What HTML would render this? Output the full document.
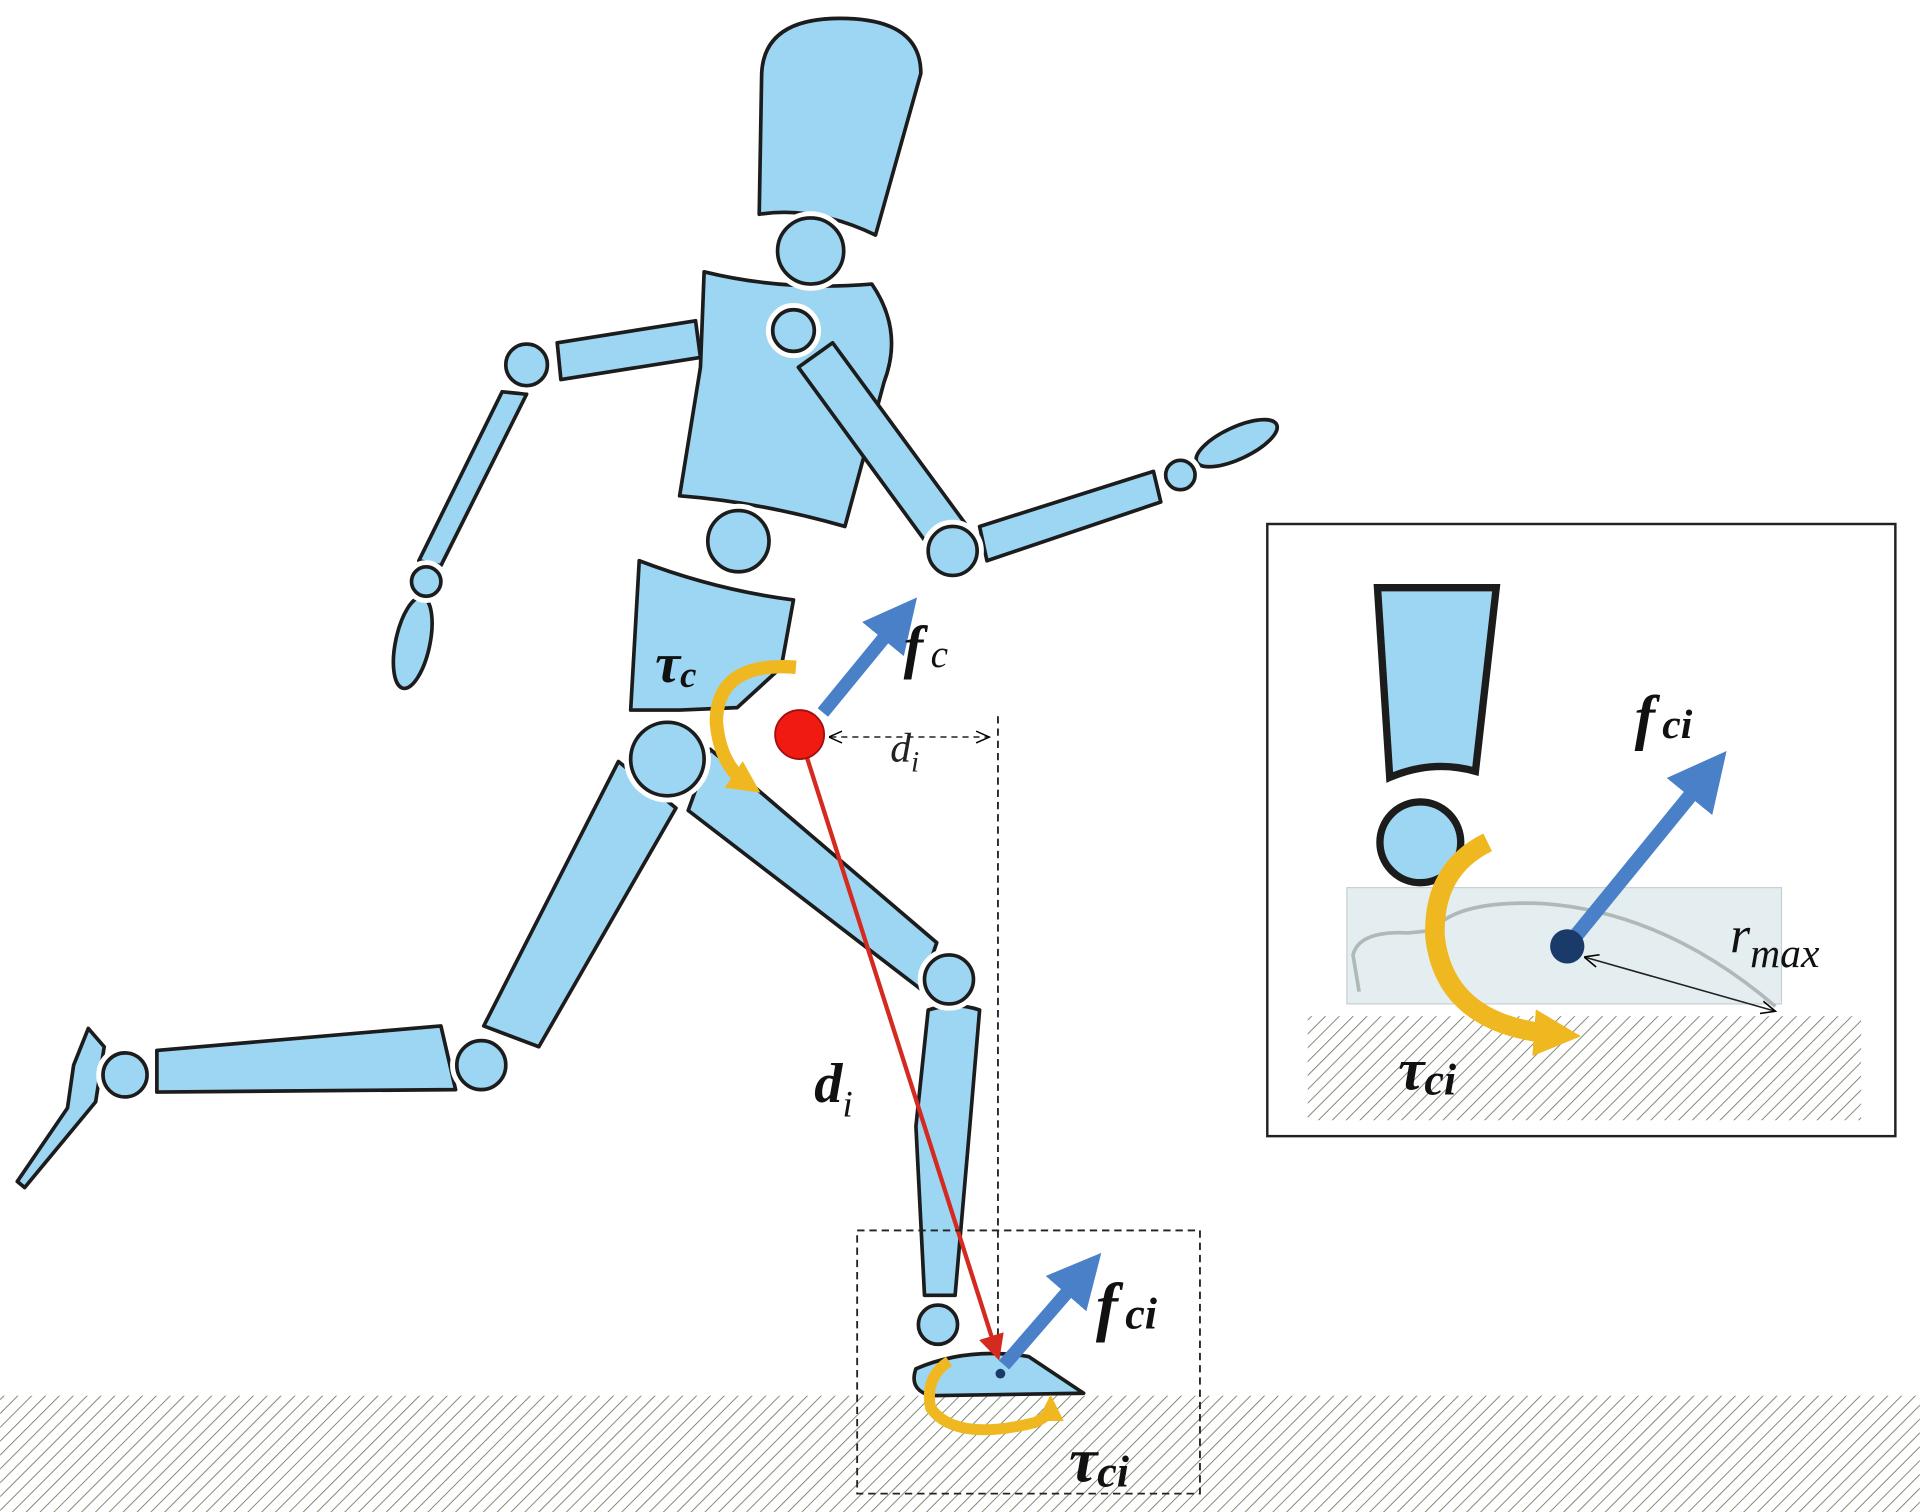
<!DOCTYPE html>
<html><head><meta charset="utf-8"><style>html,body{margin:0;padding:0;background:#fff}svg{display:block}</style></head>
<body>
<svg width="1920" height="1512" viewBox="0 0 1568 1235" xmlns="http://www.w3.org/2000/svg">
<defs>
<pattern id="h" width="8" height="8" patternUnits="userSpaceOnUse" patternTransform="rotate(45)">
<line x1="0" y1="0" x2="0" y2="8" stroke="#6f7a62" stroke-width="1.4"/>
</pattern>
<marker id="ba" markerWidth="4" markerHeight="4" refX="2" refY="2" orient="auto"><path d="M0,0L4,2L0,4Z" fill="#4a80c8"/></marker>
<marker id="ra" markerWidth="6" markerHeight="6" refX="5" refY="3" orient="auto"><path d="M0,0L6,3L0,6Z" fill="#d42a20"/></marker>
<marker id="ka" markerWidth="10" markerHeight="10" refX="9" refY="5" orient="auto"><path d="M0,1L9,5L0,9" fill="none" stroke="#000"/></marker>
<marker id="ka2" markerWidth="10" markerHeight="10" refX="1" refY="5" orient="auto"><path d="M9,1L0,5L9,9" fill="none" stroke="#000"/></marker>
<marker id="ya" markerWidth="2.4" markerHeight="2.4" refX="1.2" refY="1.2" orient="auto"><path d="M0,0L2.4,1.2L0,2.4Z" fill="#f0b820"/></marker>
</defs>
<rect width="1568" height="1235" fill="#fff"/>
<rect x="0" y="1140" width="1568" height="95" fill="url(#h)"/>
<g fill="#9dd6f2" stroke="#1c1c1c" stroke-width="3" stroke-linejoin="round">
<path d="M620,175 L622,60 Q624,15 686,15 Q752,15 752,60 L715,192 Q665,168 620,175Z"/>
<path d="M575,222 Q640,238 712,232 Q738,270 722,312 L690,430 Q620,410 555,405 L572,300Z"/>
<path d="M455,280 L568,262 L572,292 L458,310Z"/>
<path d="M410,320 L430,322 L360,462 L342,458Z"/>
<ellipse cx="337" cy="525" rx="14" ry="38" transform="rotate(12 337 525)"/>
<path d="M652,300 L680,280 L790,430 L760,448Z"/>
<path d="M800,430 L942,385 L948,410 L806,458Z"/>
<ellipse cx="1010" cy="362" rx="36" ry="13" transform="rotate(-25 1010 362)"/>
<path d="M522,458 Q585,482 648,490 L638,545 L602,578 L555,580 L515,580Z"/>
<path d="M505,622 L552,660 L440,855 L395,838Z"/>
<path d="M128,858 L360,838 L372,890 L128,892Z"/>
<path d="M72,840 L85,855 L78,900 L20,970 L14,965 L55,905 L60,870Z"/>
<path d="M580,612 L562,662 L752,808 L765,770Z"/>
<path d="M758,825 Q780,818 800,825 L792,920 L780,1058 L755,1058 L748,920Z"/>
<path d="M748,1118 Q790,1100 840,1108 L885,1138 L760,1140 Q742,1135 748,1118Z"/>
</g>
<g stroke="#ffffff" stroke-width="9" fill="none">
<circle cx="662" cy="205" r="28"/><circle cx="648" cy="270" r="18"/><circle cx="430" cy="298" r="18"/><circle cx="348" cy="475" r="13"/><circle cx="778" cy="450" r="21"/><circle cx="964" cy="388" r="13"/><circle cx="603" cy="442" r="26"/><circle cx="545" cy="620" r="31"/><circle cx="393" cy="870" r="21"/><circle cx="102" cy="878" r="19"/><circle cx="775" cy="800" r="21"/><circle cx="766" cy="1082" r="17"/>
</g>
<g fill="#9dd6f2" stroke="#1c1c1c" stroke-width="3">
<circle cx="662" cy="205" r="27"/>
<circle cx="648" cy="270" r="17"/>
<circle cx="430" cy="298" r="17"/>
<circle cx="348" cy="475" r="12"/>
<circle cx="778" cy="450" r="20"/>
<circle cx="964" cy="388" r="12"/>
<circle cx="603" cy="442" r="25"/>
<circle cx="545" cy="620" r="30"/>
<circle cx="393" cy="870" r="20"/>
<circle cx="102" cy="878" r="18"/>
<circle cx="775" cy="800" r="20"/>
<circle cx="766" cy="1082" r="16"/>
</g>
<path d="M650,545 Q585,540 585,590 Q588,625 610,640" fill="none" stroke="#f0b820" stroke-width="11" marker-end="url(#ya)"/>
<line x1="815" y1="585" x2="815" y2="1100" stroke="#222" stroke-width="1.5" stroke-dasharray="6,4"/>
<line x1="678" y1="602" x2="808" y2="602" stroke="#222" stroke-width="1.2" stroke-dasharray="5,4" marker-start="url(#ka2)" marker-end="url(#ka)"/>
<line x1="653" y1="600" x2="815" y2="1108" stroke="#d42a20" stroke-width="3.5" marker-end="url(#ra)"/>
<circle cx="653" cy="600" r="20" fill="#f01a10" stroke="#a01010" stroke-width="1.5"/>
<line x1="672" y1="582" x2="735" y2="505" stroke="#4a80c8" stroke-width="11" marker-end="url(#ba)"/>
<rect x="700" y="1005" width="280" height="215" fill="none" stroke="#222" stroke-width="1.5" stroke-dasharray="6,4"/>
<line x1="820" y1="1115" x2="885" y2="1040" stroke="#4a80c8" stroke-width="11" marker-end="url(#ba)"/>
<circle cx="817" cy="1122" r="4" fill="#1a3a6a"/>
<path d="M775,1112 Q755,1125 760,1150 Q780,1178 845,1162 Q858,1156 858,1150" fill="none" stroke="#f0b820" stroke-width="9" marker-end="url(#ya)"/>
<g font-family="Liberation Serif, serif" font-style="italic" font-weight="bold" fill="#111">
<text x="535" y="557" font-size="46">τ<tspan font-size="30" dy="4">c</tspan></text>
<text x="738" y="545" font-size="48">f<tspan font-size="32" dx="6" font-weight="normal">c</tspan></text>
<text x="665" y="900" font-size="46">d<tspan font-size="30" dy="12" font-weight="normal">i</tspan></text>
<text x="895" y="1085" font-size="54">f<tspan font-size="36" dx="6">ci</tspan></text>
<text x="873" y="1210" font-size="52">τ<tspan font-size="36" dy="4">ci</tspan></text>
</g>
<text x="727" y="622" font-family="Liberation Serif, serif" font-style="italic" font-size="34" fill="#222">d<tspan font-size="24" dy="8">i</tspan></text>
<rect x="1035" y="428" width="513" height="500" fill="#fff" stroke="#222" stroke-width="2"/>
<rect x="1068" y="830" width="452" height="85" fill="url(#h)"/>
<path d="M1125,480 L1222,480 L1205,630 Q1170,620 1135,635Z" fill="#9dd6f2" stroke="#1c1c1c" stroke-width="6"/>
<circle cx="1160" cy="688" r="33" fill="#9dd6f2" stroke="#1c1c1c" stroke-width="6"/>
<rect x="1100" y="725" width="355" height="95" fill="#dbe7ea" fill-opacity="0.75" stroke="#c8d0d0"/>
<path d="M1110,810 L1105,780 Q1110,760 1150,762 L1170,760 Q1190,735 1260,738 Q1360,745 1450,822" fill="none" stroke="#b0b8b8" stroke-width="3"/>
<path d="M1215,688 Q1170,710 1172,765 Q1180,838 1272,845" fill="none" stroke="#f0b820" stroke-width="16" marker-end="url(#ya)"/>
<line x1="1280" y1="773" x2="1395" y2="632" stroke="#4a80c8" stroke-width="12" marker-end="url(#ba)"/>
<line x1="1295" y1="782" x2="1450" y2="826" stroke="#222" stroke-width="1.3" marker-start="url(#ka2)" marker-end="url(#ka)"/>
<circle cx="1280" cy="773" r="14" fill="#1a3a6a"/>
<g font-family="Liberation Serif, serif" font-style="italic" font-weight="bold" fill="#111">
<text x="1335" y="603" font-size="50">f<tspan font-size="34" dx="6">ci</tspan></text>
<text x="1142" y="890" font-size="48">τ<tspan font-size="36" dy="4">ci</tspan></text>
</g>
<text x="1413" y="778" font-family="Liberation Serif, serif" font-style="italic" font-size="42" fill="#111">r<tspan font-size="34" dy="12">max</tspan></text>
</svg>
</body></html>
